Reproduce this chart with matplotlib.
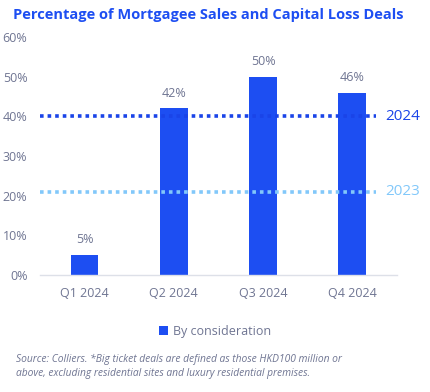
import matplotlib.pyplot as plt

# Data
quarters = ['Q1 2024', 'Q2 2024', 'Q3 2024', 'Q4 2024']
by_consideration = [5, 42, 50, 46]
avg_2024 = 40
avg_2023 = 21
y_ticks = [0, 10, 20, 30, 40, 50, 60]

bar_color = '#1d4ef2'
dark_line = '#1a44e8'
light_line = '#82c8fa'
grey = '#6f7592'

plt.rcParams['font.family'] = ['Open Sans', 'DejaVu Sans']

fig = plt.figure(figsize=(4.3, 3.92), dpi=100)
ax = fig.add_axes([0.093, 0.2985, 0.83, 0.607])

x = range(len(quarters))
bars = ax.bar(x, by_consideration, width=0.31, color=bar_color, zorder=2,
              label='By consideration')
for xi, v in zip(x, by_consideration):
    ax.text(xi, v + 2.2, f'{v}%', ha='center', va='bottom', fontsize=9, color=grey)

# reference lines
ax.plot([-0.5, 3.27], [avg_2024, avg_2024], color=dark_line, lw=2.6,
        linestyle=(0, (1, 1.1)), zorder=3)
ax.plot([-0.5, 3.27], [avg_2023, avg_2023], color=light_line, lw=2.6,
        linestyle=(0, (1, 1.1)), zorder=3)
ax.text(3.37, avg_2024, '2024', color=dark_line, fontsize=11, va='center', ha='left')
ax.text(3.37, avg_2023, '2023', color=light_line, fontsize=11, va='center', ha='left')

ax.set_xlim(-0.5, 3.5)
ax.set_ylim(0, 60)
ax.set_yticks(y_ticks)
ax.set_yticklabels([f'{t}%' for t in y_ticks])
ax.set_xticks(list(x))
ax.set_xticklabels(quarters)
ax.tick_params(axis='both', length=0, labelsize=9, colors=grey)
ax.tick_params(axis='x', pad=9)
ax.tick_params(axis='y', pad=9)
for side in ['top', 'right', 'left']:
    ax.spines[side].set_visible(False)
ax.spines['bottom'].set_color('#dde0e8')
ax.spines['bottom'].set_linewidth(1)

fig.text(0.03, 0.962, 'Percentage of Mortgagee Sales and Capital Loss Deals',
         fontsize=10.5, fontweight='bold', color=bar_color, va='center')

fig.legend(handles=[bars], loc='center', bbox_to_anchor=(0.5, 0.155), frameon=False,
           fontsize=9, labelcolor=grey, handlelength=0.7, handleheight=0.7,
           handletextpad=0.4)

fig.text(0.037, 0.082, 'Source: Colliers. *Big ticket deals are defined as those HKD100 million or',
         fontsize=7.4, style='italic', color=grey, va='center')
fig.text(0.037, 0.048, 'above, excluding residential sites and luxury residential premises.',
         fontsize=7.4, style='italic', color=grey, va='center')

fig.savefig('out.png', dpi=100)
